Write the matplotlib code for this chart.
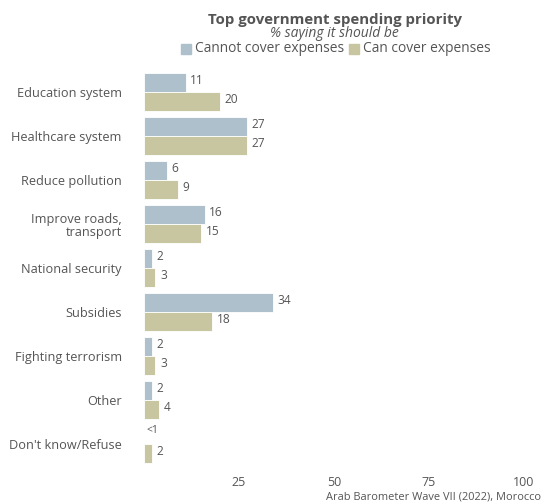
import matplotlib
matplotlib.use("Agg")
import matplotlib.pyplot as plt
import numpy as np
from matplotlib.patches import Rectangle

plt.rcParams['font.family'] = ['Open Sans', 'DejaVu Sans']

categories = ["Education system", "Healthcare system", "Reduce pollution",
              "Improve roads,\ntransport", "National security", "Subsidies",
              "Fighting terrorism", "Other", "Don't know/Refuse"]
cannot_cover = [11, 27, 6, 16, 2, 34, 2, 2, 0]
can_cover = [20, 27, 9, 15, 3, 18, 3, 4, 2]
cannot_labels = ["11", "27", "6", "16", "2", "34", "2", "2", "<1"]
can_labels = ["20", "27", "9", "15", "3", "18", "3", "4", "2"]
series_names = ["Cannot cover expenses", "Can cover expenses"]
xticks = [25, 50, 75, 100]

blue = "#adc0cc"
tan = "#c8c6a0"
txt = "#555555"

W, H = 542, 503
fig = plt.figure(figsize=(W / 100, H / 100), dpi=100)
ax = fig.add_axes([144 / W, (H - 466) / H, (524 - 144) / W, (466 - 70) / H])

y = np.arange(len(categories))
bh = 0.44
ax.barh(y - bh / 2, cannot_cover, height=bh, color=blue, edgecolor="white", linewidth=0.6)
ax.barh(y + bh / 2, can_cover, height=bh, color=tan, edgecolor="white", linewidth=0.6)

for i in range(len(categories)):
    if cannot_labels[i] == "<1":
        ax.text(cannot_cover[i] + 0.7, y[i] - bh / 2 - 0.08, cannot_labels[i], va="center", ha="left",
                fontsize=7.5, color=txt)
    else:
        ax.text(cannot_cover[i] + 1.2, y[i] - bh / 2 - 0.05, cannot_labels[i], va="center", ha="left",
                fontsize=8.6, color=txt)
    ax.text(can_cover[i] + 1.2, y[i] + bh / 2 - 0.05, can_labels[i], va="center", ha="left",
            fontsize=8.6, color=txt)

ax.set_xlim(0, 100)
ax.set_ylim(len(categories) - 0.5, -0.5)
ax.set_yticks(y)
ax.set_yticklabels(categories, fontsize=9.2, color=txt, linespacing=1.05)
ax.set_xticks(xticks)
ax.set_xticklabels([str(t) for t in xticks], fontsize=9, color=txt)
ax.tick_params(axis="y", length=0, pad=16)
ax.tick_params(axis="x", length=0, pad=7)
for lbl in ax.get_yticklabels():
    lbl.set_horizontalalignment("right")
    lbl.set_multialignment("right")
for s in ax.spines.values():
    s.set_visible(False)

fig.text(334.5 / W, 1 - 20 / H, "Top government spending priority", ha="center", va="center",
         fontsize=10.8, fontweight="bold", color=txt)
fig.text(334.5 / W, 1 - 33 / H, "% saying it should be", ha="center", va="center",
         fontsize=10, style="italic", color=txt)

# legend
leg_y = 1 - 49 / H
sq = 10
fig.patches.append(Rectangle((181 / W, leg_y - (sq / 2) / H), sq / W, sq / H,
                             transform=fig.transFigure, color=blue))
fig.text(195 / W, leg_y, series_names[0], ha="left", va="center", fontsize=9.9, color=txt)
fig.patches.append(Rectangle((349 / W, leg_y - (sq / 2) / H), sq / W, sq / H,
                             transform=fig.transFigure, color=tan))
fig.text(363 / W, leg_y, series_names[1], ha="left", va="center", fontsize=9.9, color=txt)

fig.text(541 / W, 1 - 497 / H, "Arab Barometer Wave VII (2022), Morocco",
         ha="right", va="center", fontsize=7.9, color=txt)

fig.savefig("out.png", dpi=100)
